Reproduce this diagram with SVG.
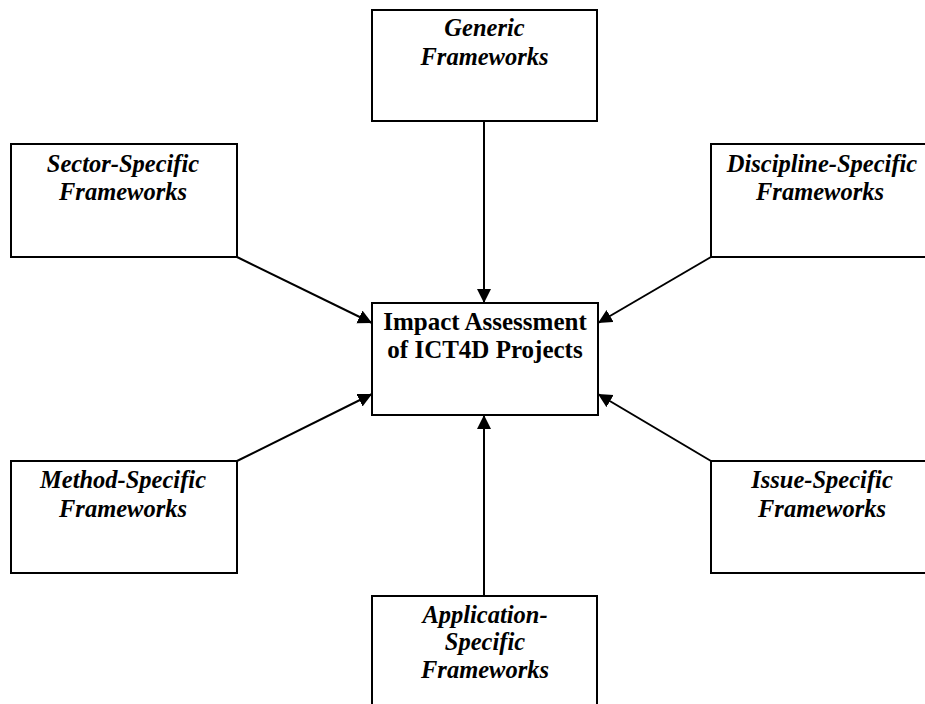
<svg xmlns="http://www.w3.org/2000/svg" width="925" height="704" viewBox="0 0 925 704">
  <style>
    .box { fill: #ffffff; stroke: #000000; stroke-width: 2; }
    .lbl { font-family: "Liberation Serif", "Times New Roman", serif; font-size: 24.5px; font-weight: bold; font-style: italic; text-anchor: middle; fill: #000000; }
    .main { font-style: normal; font-size: 25px; }
    .edge { stroke: #000000; stroke-width: 2; fill: none; marker-end: url(#arrow); }
  </style>
  <defs>
    <marker id="arrow" markerWidth="15" markerHeight="15" refX="14" refY="7" orient="auto" markerUnits="userSpaceOnUse">
      <path d="M0,0 L14,7 L0,14 Z" fill="#000000"/>
    </marker>
  </defs>
  <rect width="925" height="704" fill="#ffffff"/>

  <g id="connectors">
    <line class="edge" x1="484" y1="121" x2="484" y2="303"/>
    <line class="edge" x1="237" y1="257" x2="372" y2="323"/>
    <line class="edge" x1="711" y1="257" x2="598" y2="323"/>
    <line class="edge" x1="237" y1="461" x2="372" y2="394"/>
    <line class="edge" x1="711" y1="461" x2="598" y2="394"/>
    <line class="edge" x1="484" y1="596" x2="484" y2="415"/>
  </g>

  <g id="generic">
    <rect class="box" x="372" y="10" width="225" height="111"/>
    <text class="lbl" x="484.5" y="36">Generic</text>
    <text class="lbl" x="484.5" y="65">Frameworks</text>
  </g>

  <g id="sector">
    <rect class="box" x="11" y="144" width="226" height="113"/>
    <text class="lbl" x="123" y="172">Sector-Specific</text>
    <text class="lbl" x="123" y="200">Frameworks</text>
  </g>

  <g id="discipline">
    <rect class="box" x="711" y="144" width="230" height="113"/>
    <text class="lbl" x="822" y="172">Discipline-Specific</text>
    <text class="lbl" x="820" y="200">Frameworks</text>
  </g>

  <g id="impact">
    <rect class="box" x="372" y="303" width="226" height="112"/>
    <text class="lbl main" x="485" y="330">Impact Assessment</text>
    <text class="lbl main" x="485" y="358">of ICT4D Projects</text>
  </g>

  <g id="method">
    <rect class="box" x="11" y="461" width="226" height="112"/>
    <text class="lbl" x="123" y="488">Method-Specific</text>
    <text class="lbl" x="123" y="517">Frameworks</text>
  </g>

  <g id="issue">
    <rect class="box" x="711" y="461" width="230" height="112"/>
    <text class="lbl" x="822" y="488">Issue-Specific</text>
    <text class="lbl" x="822" y="517">Frameworks</text>
  </g>

  <g id="application">
    <rect class="box" x="372" y="596" width="225" height="120"/>
    <text class="lbl" x="485" y="623">Application-</text>
    <text class="lbl" x="485" y="650">Specific</text>
    <text class="lbl" x="485" y="678">Frameworks</text>
  </g>
</svg>
